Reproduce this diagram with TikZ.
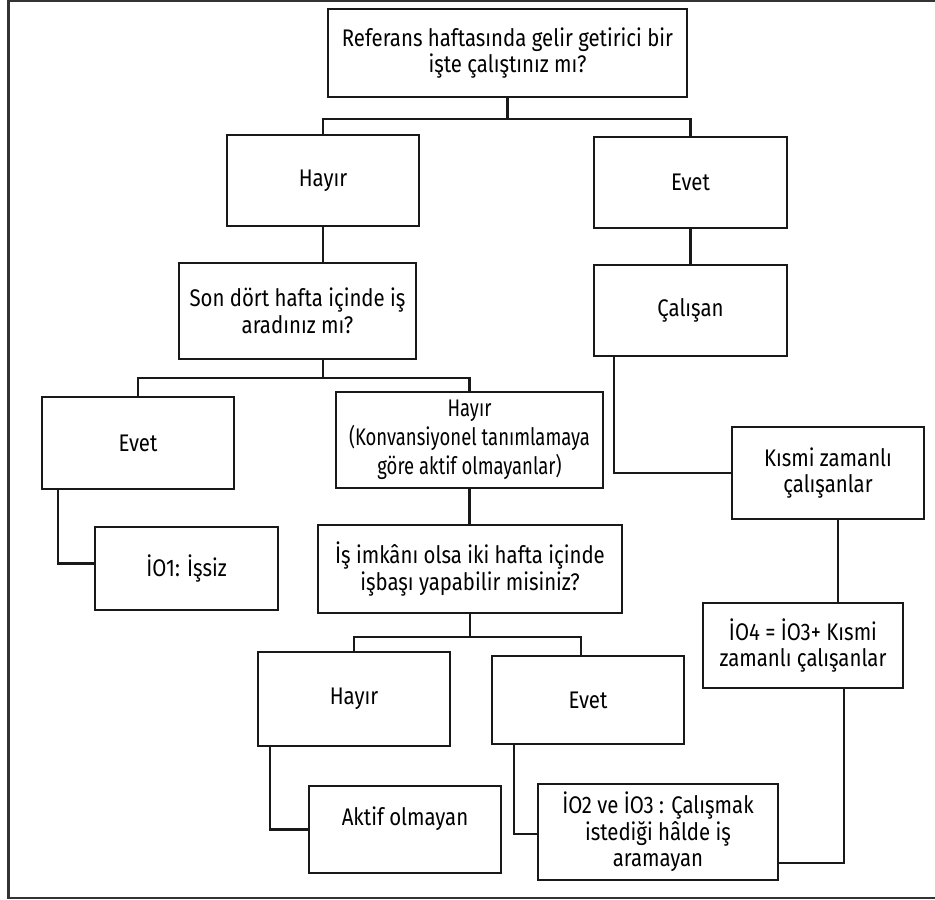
\documentclass[tikz,border=0pt]{standalone}
\usepackage{fontspec}
\setmainfont{Fira Sans}[FakeStretch=0.85]
\newfontfamily\narrowfont{Fira Sans}[FakeStretch=0.77]
\begin{document}
\begin{tikzpicture}[x=1pt,y=-1pt,
  box/.style={draw=black!90, line width=2.6pt, rectangle, align=center, inner sep=2pt,
     font=\fontsize{24}{26.5}\selectfont},
  link/.style={draw=black!90, line width=2.2pt}]
\useasboundingbox (0,0) rectangle (935,900);
\fill[white] (0,0) rectangle (935,900);
\draw[black!80, line width=2.2pt] (8.5,1) rectangle (945,898);

\node[box, minimum width=359, minimum height=88] (top) at (507.5,53) {Referans haftasında gelir getirici bir\\işte çalıştınız mı?};
\node[box, minimum width=192, minimum height=91] (hay1) at (323,180.5) {Hayır};
\node[box, minimum width=193, minimum height=91] (evet1) at (690.5,182.5) {Evet};
\node[box, minimum width=237, minimum height=96] (sondort) at (297.5,311) {Son dört hafta içinde iş\\aradınız mı?};
\node[box, minimum width=193, minimum height=91] (calisan) at (690.5,310.5) {Çalışan};
\node[box, minimum width=192, minimum height=92] (evet2) at (138,443) {Evet};
\node[box, minimum width=267, minimum height=96, font=\narrowfont\fontsize{24}{29}\selectfont] (hayir2) at (469.5,440) {Hayır\\(Konvansiyonel tanımlamaya\\göre aktif olmayanlar)};
\node[box, minimum width=192, minimum height=92] (kismi) at (828,473) {Kısmi zamanlı\\çalışanlar};
\node[box, minimum width=183, minimum height=83] (io1) at (186.5,568.5) {İO1: İşsiz};
\node[box, minimum width=304, minimum height=88] (isimkani) at (470,569) {İş imkânı olsa iki hafta içinde\\işbaşı yapabilir misiniz?};
\node[box, minimum width=200, minimum height=85] (io4) at (803,645.5) {İO4 = İO3+ Kısmi\\zamanlı çalışanlar};
\node[box, minimum width=192, minimum height=94] (hayir3) at (354,699) {Hayır};
\node[box, minimum width=192, minimum height=88] (evet3) at (588,700) {Evet};
\node[box, minimum width=192, minimum height=87] (aktif) at (405,829.5) {Aktif olmayan\\\mbox{}};
\node[box, minimum width=240, minimum height=96] (io2) at (658,832) {İO2 ve İO3 : Çalışmak\\istediği hâlde iş\\aramayan};

% connectors
\draw[link] (top.south) -- ++(0,21) -| (hay1.north);
\draw[link] (top.south) -- ++(0,21) -| (evet1.north);
\draw[link] (hay1.south) -- (hay1.south |- sondort.north);
\draw[link] (evet1.south) -- (calisan.north);
\draw[link] (sondort.south -| hay1.south) -- ++(0,18) coordinate (b2) -| (evet2.north);
\draw[link] (b2) -| (hayir2.north);
\draw[link] ([xshift=-76.5]calisan.south) |- (kismi.west);
\draw[link] ([xshift=-80]evet2.south) |- ([yshift=5]io1.west);
\draw[link] (hayir2.south) -- (hayir2.south |- isimkani.north);
\draw[link] ([xshift=10]kismi.south) -- ([xshift=10]kismi.south |- io4.north);
\draw[link] (isimkani.south) -- ++(0,23) coordinate (b3) -| (hayir3.north);
\draw[link] (b3) -| ([xshift=-7]evet3.north);
\draw[link] ([xshift=-84]hayir3.south) |- (aktif.west);
\draw[link] ([xshift=-74]evet3.south) |- ([yshift=-2]io2.west);
\draw[link] ([xshift=41]io4.south) |- ([yshift=-31]io2.east);
\end{tikzpicture}
\end{document}
